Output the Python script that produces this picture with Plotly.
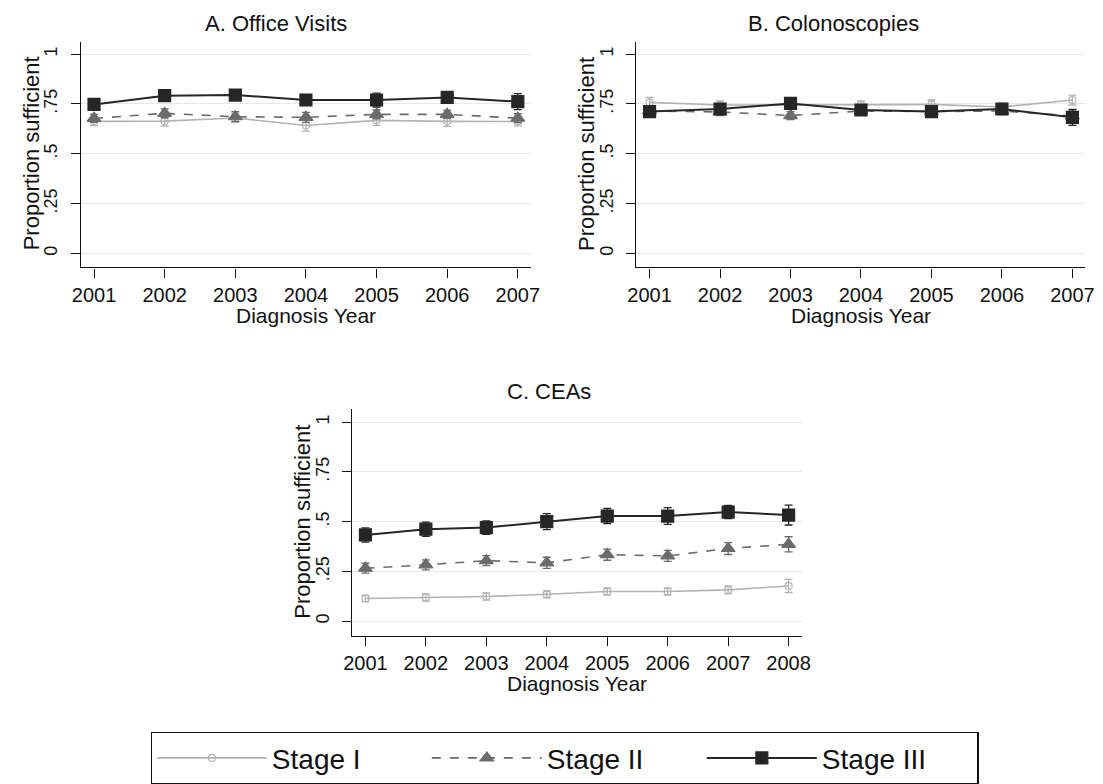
import plotly.graph_objects as go

W, H = 1103, 784

# ---------------- data ----------------
years_ab = [2001, 2002, 2003, 2004, 2005, 2006, 2007]
years_c = [2001, 2002, 2003, 2004, 2005, 2006, 2007, 2008]

# Panel A: Office Visits
a_s1 = [0.663, 0.664, 0.680, 0.642, 0.668, 0.663, 0.662]
a_s1_err = [0.022, 0.025, 0.020, 0.028, 0.025, 0.025, 0.022]
a_s2 = [0.678, 0.703, 0.686, 0.683, 0.698, 0.698, 0.679]
a_s2_err = [0.020, 0.022, 0.025, 0.025, 0.022, 0.020, 0.022]
a_s3 = [0.748, 0.792, 0.795, 0.770, 0.770, 0.783, 0.762]
a_s3_err = [0.016, 0.016, 0.016, 0.018, 0.035, 0.020, 0.040]

# Panel B: Colonoscopies
b_s1 = [0.758, 0.745, 0.745, 0.745, 0.748, 0.735, 0.770]
b_s1_err = [0.025, 0.020, 0.020, 0.020, 0.022, 0.020, 0.025]
b_s2 = [0.715, 0.710, 0.692, 0.715, 0.712, 0.715, 0.690]
b_s2_err = [0.018, 0.018, 0.020, 0.018, 0.018, 0.018, 0.025]
b_s3 = [0.712, 0.725, 0.753, 0.720, 0.712, 0.725, 0.683]
b_s3_err = [0.016, 0.016, 0.018, 0.016, 0.016, 0.016, 0.040]

# Panel C: CEAs
c_s1 = [0.114, 0.119, 0.124, 0.135, 0.149, 0.149, 0.157, 0.177]
c_s1_err = [0.016, 0.018, 0.018, 0.018, 0.018, 0.018, 0.020, 0.033]
c_s2 = [0.266, 0.283, 0.304, 0.293, 0.334, 0.328, 0.365, 0.386]
c_s2_err = [0.025, 0.025, 0.025, 0.028, 0.028, 0.028, 0.030, 0.038]
c_s3 = [0.433, 0.462, 0.470, 0.500, 0.528, 0.528, 0.548, 0.533]
c_s3_err = [0.036, 0.036, 0.034, 0.040, 0.038, 0.042, 0.033, 0.050]

y_tickvals = [0, 0.25, 0.5, 0.75, 1]
y_ticktext = ["0", ".25", ".5", ".75", "1"]
stage_names = ["Stage I", "Stage II", "Stage III"]
panel_titles = ["A. Office Visits", "B. Colonoscopies", "C. CEAs"]

# ---------------- styles ----------------
FONT = "Liberation Sans, Arial, sans-serif"
C1, C2, C3 = "#b3b3b3", "#6b6b6b", "#262626"
styles = [
    dict(color=C1, dash="solid", width=1.6, symbol="circle-open", msize=7),
    dict(color=C2, dash="dash", width=1.6, symbol="triangle-up", msize=12),
    dict(color=C3, dash="solid", width=2.0, symbol="square", msize=12),
]

def fx(px):
    return px / W

def fy(py):
    return 1 - py / H

fig = go.Figure()

panels = [
    dict(years=years_ab, series=[(a_s1, a_s1_err), (a_s2, a_s2_err), (a_s3, a_s3_err)],
         xdom=(73.0, 530.7), ydom=(41.7, 267.7), xr=(2000.813, 2007.187), yr=(-0.070, 1.063),
         title_xy=(271.5, 23.5), ytitle_xy=(22.9, 154), xtitle_xy=(302, 316)),
    dict(years=years_ab, series=[(b_s1, b_s1_err), (b_s2, b_s2_err), (b_s3, b_s3_err)],
         xdom=(637.3, 1094.3), ydom=(41.7, 267.7), xr=(2000.806, 2007.185), yr=(-0.070, 1.063),
         title_xy=(838.5, 23.5), ytitle_xy=(587.8, 154), xtitle_xy=(866, 316)),
    dict(years=years_c, series=[(c_s1, c_s1_err), (c_s2, c_s2_err), (c_s3, c_s3_err)],
         xdom=(349.0, 806.0), ydom=(409.3, 636.7), xr=(2000.783, 2008.219), yr=(-0.074, 1.067),
         title_xy=(548.6, 391.5), ytitle_xy=(298.2, 522), xtitle_xy=(577.5, 684)),
]

annotations = []
for i, p in enumerate(panels):
    n = "" if i == 0 else str(i + 1)
    xa, ya = "x" + n, "y" + n
    for k, (vals, errs) in enumerate(p["series"]):
        st = styles[k]
        fig.add_trace(go.Scatter(
            x=p["years"], y=vals, xaxis=xa, yaxis=ya,
            mode="lines+markers", name=stage_names[k],
            showlegend=(i == 0),
            line=dict(color=st["color"], width=st["width"], dash=st["dash"]),
            marker=dict(symbol=st["symbol"], size=st["msize"], color=st["color"],
                        line=dict(color=st["color"], width=1.2)),
            error_y=dict(type="data", array=errs, visible=True, color=st["color"],
                         thickness=1.3, width=4),
        ))
    axis_common = dict(showline=True, linecolor="#111", linewidth=1.4, ticks="outside",
                       ticklen=9, tickwidth=1.2, tickcolor="#111", mirror=False,
                       zeroline=False)
    fig.update_layout(**{
        "xaxis" + n: dict(domain=[fx(p["xdom"][0]), fx(p["xdom"][1])], range=list(p["xr"]),
                          tickvals=p["years"], ticktext=[str(y) for y in p["years"]],
                          tickfont=dict(family=FONT, size=20, color="#111"),
                          showgrid=False, anchor=ya, **axis_common),
        "yaxis" + n: dict(domain=[fy(p["ydom"][1]), fy(p["ydom"][0])], range=list(p["yr"]),
                          tickvals=y_tickvals, ticktext=y_ticktext, tickangle=-90,
                          tickfont=dict(family=FONT, size=18, color="#111"),
                          ticklabelstandoff=6,
                          showgrid=True, gridcolor="#e8e8e8", gridwidth=1.2, anchor=xa,
                          **axis_common),
    })
    annotations.append(dict(text=panel_titles[i], x=fx(p["title_xy"][0]), y=fy(p["title_xy"][1]),
                            xref="paper", yref="paper", showarrow=False,
                            xanchor="center", yanchor="middle",
                            font=dict(family=FONT, size=22, color="#111")))
    annotations.append(dict(text="Proportion sufficient", x=fx(p["ytitle_xy"][0]),
                            y=fy(p["ytitle_xy"][1]), xref="paper", yref="paper",
                            showarrow=False, textangle=-90, xanchor="center", yanchor="middle",
                            font=dict(family=FONT, size=22, color="#111")))
    annotations.append(dict(text="Diagnosis Year", x=fx(p["xtitle_xy"][0]), y=fy(p["xtitle_xy"][1]),
                            xref="paper", yref="paper", showarrow=False,
                            xanchor="center", yanchor="middle",
                            font=dict(family=FONT, size=21, color="#111")))

fig.update_layout(
    width=W, height=H,
    margin=dict(l=0, r=0, t=0, b=0),
    paper_bgcolor="white", plot_bgcolor="white",
    annotations=annotations,
    showlegend=True,
    legend=dict(orientation="h", x=fx(144), y=fy(733), xanchor="left", yanchor="top",
                bordercolor="#111", borderwidth=1.2, bgcolor="white",
                font=dict(family=FONT, size=28, color="#111"),
                itemwidth=110, entrywidth=150, tracegroupgap=0),
)

fig.write_html("out.html")
